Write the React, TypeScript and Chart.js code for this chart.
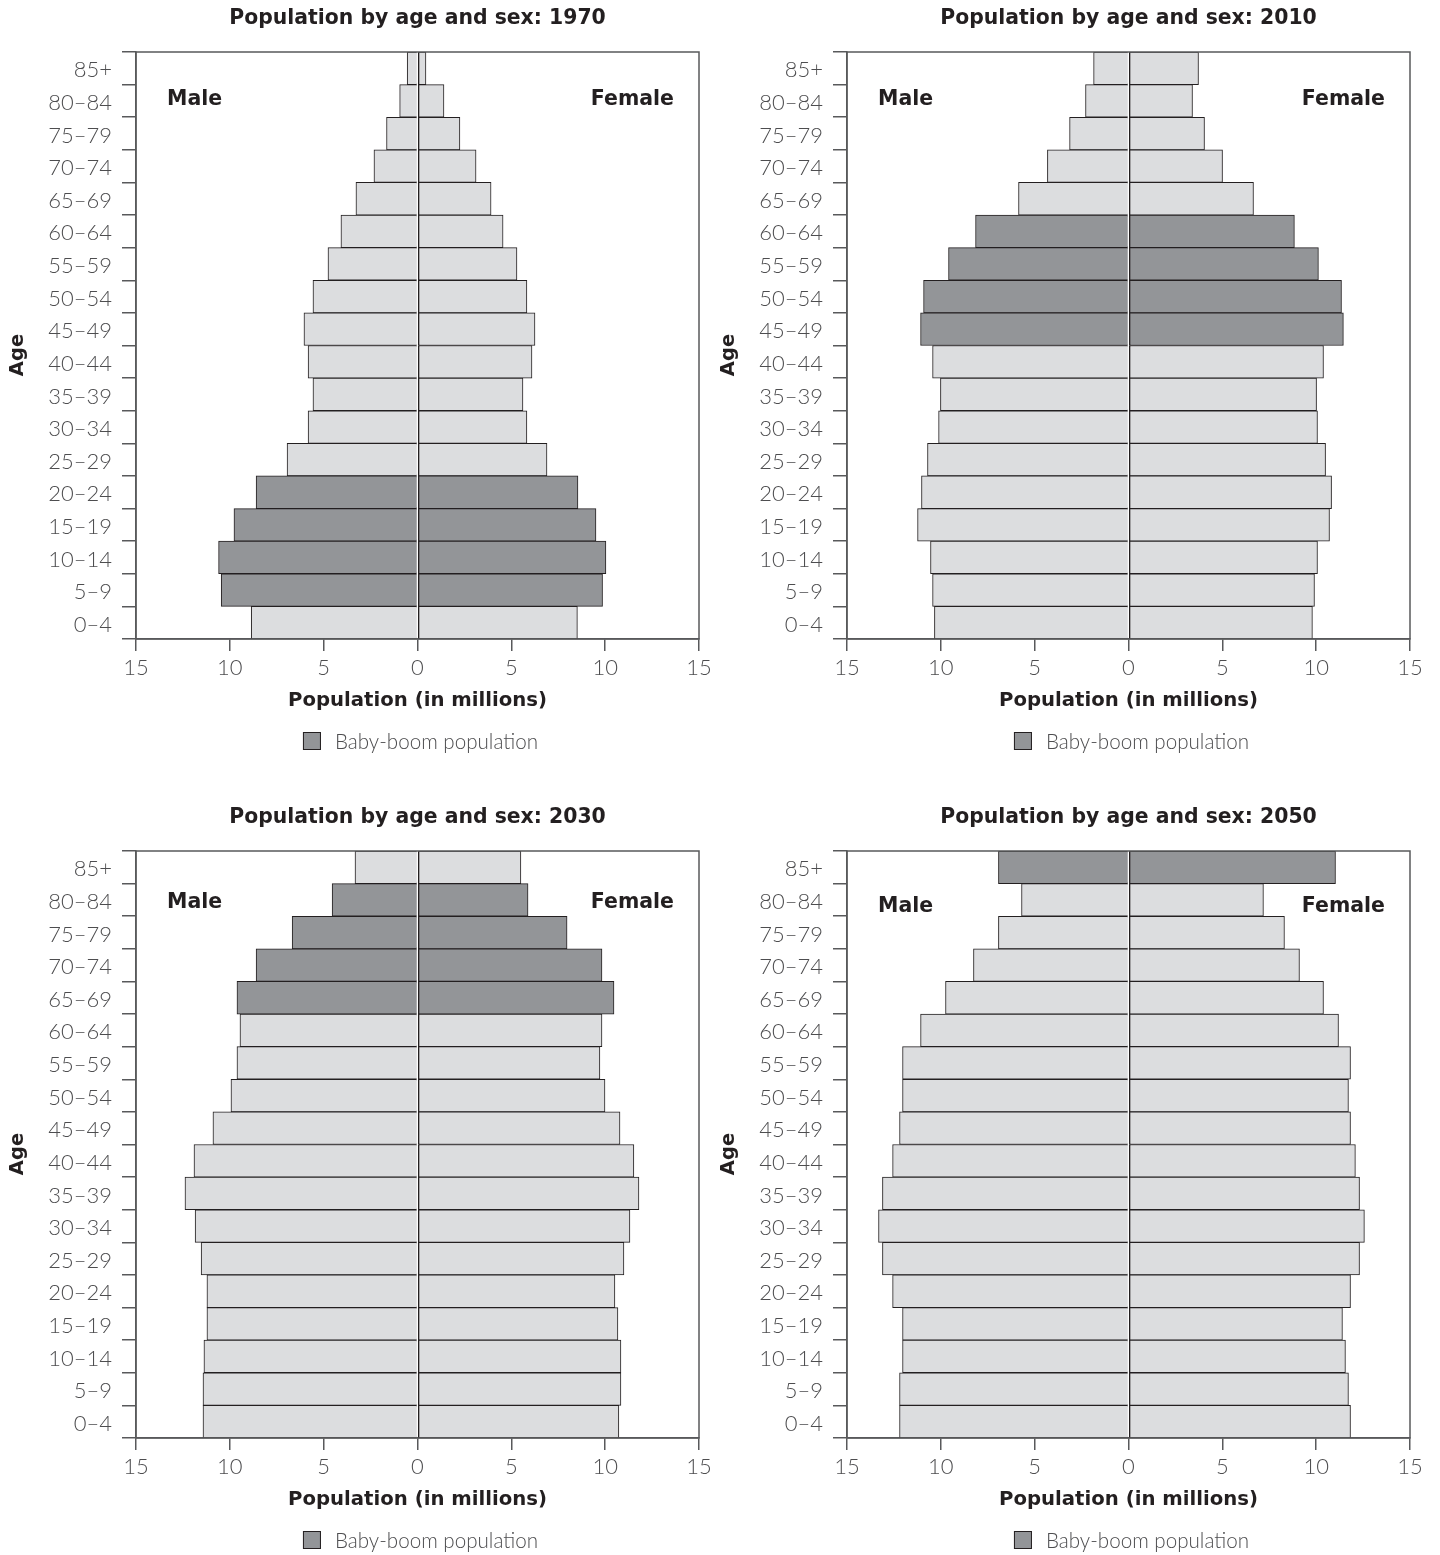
import React, { useEffect, useRef } from "react";
import { Chart, registerables } from "chart.js";

Chart.register(...registerables);

// ---------- DATA ----------
const ageGroups = [
  "85+", "80–84", "75–79", "70–74", "65–69", "60–64", "55–59", "50–54", "45–49",
  "40–44", "35–39", "30–34", "25–29", "20–24", "15–19", "10–14", "5–9", "0–4",
];
const xTickValues = [-15, -10, -5, 0, 5, 10, 15];

const male1970 = [0.55, 0.95, 1.65, 2.32, 3.28, 4.08, 4.77, 5.57, 6.05, 5.83, 5.57, 5.83, 6.95, 8.6, 9.78, 10.6, 10.46, 8.86];
const female1970 = [0.45, 1.41, 2.26, 3.12, 3.92, 4.56, 5.3, 5.83, 6.26, 6.1, 5.62, 5.83, 6.9, 8.55, 9.51, 10.04, 9.86, 8.52];
const boom1970 = [0, 0, 0, 0, 0, 0, 0, 0, 0, 0, 0, 0, 0, 1, 1, 1, 1, 0];

const male2010 = [1.86, 2.29, 3.14, 4.32, 5.86, 8.15, 9.59, 10.92, 11.08, 10.44, 10.02, 10.12, 10.71, 11.03, 11.24, 10.55, 10.44, 10.34];
const female2010 = [3.73, 3.41, 4.05, 5.01, 6.66, 8.84, 10.12, 11.35, 11.45, 10.39, 10.02, 10.07, 10.5, 10.82, 10.71, 10.07, 9.91, 9.8];
const boom2010 = [0, 0, 0, 0, 0, 1, 1, 1, 1, 0, 0, 0, 0, 0, 0, 0, 0, 0];

const male2030 = [3.33, 4.55, 6.68, 8.6, 9.62, 9.46, 9.62, 9.94, 10.9, 11.91, 12.39, 11.85, 11.53, 11.22, 11.22, 11.38, 11.43, 11.43];
const female2030 = [5.51, 5.89, 7.97, 9.83, 10.47, 9.83, 9.72, 9.99, 10.79, 11.53, 11.8, 11.32, 11.0, 10.52, 10.68, 10.84, 10.84, 10.73];
const boom2030 = [0, 1, 1, 1, 1, 0, 0, 0, 0, 0, 0, 0, 0, 0, 0, 0, 0, 0];

const male2050 = [6.93, 5.7, 6.93, 8.26, 9.75, 11.08, 12.04, 12.04, 12.2, 12.57, 13.11, 13.32, 13.11, 12.57, 12.04, 12.04, 12.2, 12.2];
const female2050 = [11.03, 7.19, 8.31, 9.11, 10.39, 11.19, 11.83, 11.72, 11.83, 12.09, 12.31, 12.57, 12.31, 11.83, 11.4, 11.56, 11.72, 11.83];
const boom2050 = [1, 0, 0, 0, 0, 0, 0, 0, 0, 0, 0, 0, 0, 0, 0, 0, 0, 0];

// ---------- STYLE ----------
const LIGHT = "#dcdddf";
const DARK = "#939598";
const INK = "#231f20";
const AXIS = "#58595b";
const TICK_TEXT = "#4d4d4f";
const BOLD_FAMILY = "'DejaVu Sans', sans-serif";
const LIGHT_FAMILY = "Lato, 'DejaVu Sans', sans-serif";

const PANELS = [
  { year: "1970", male: male1970, female: female1970, boom: boom1970, left: 0, top: 0, labelDy: 48 },
  { year: "2010", male: male2010, female: female2010, boom: boom2010, left: 711, top: 0, labelDy: 48 },
  { year: "2030", male: male2030, female: female2030, boom: boom2030, left: 0, top: 799, labelDy: 52 },
  { year: "2050", male: male2050, female: female2050, boom: boom2050, left: 711, top: 799, labelDy: 56 },
];

type PanelProps = {
  year: string;
  male: number[];
  female: number[];
  boom: number[];
  left: number;
  top: number;
  labelDy: number;
};

function Pyramid({ year, male, female, boom, left, top, labelDy }: PanelProps) {
  const ref = useRef<HTMLCanvasElement>(null);

  useEffect(() => {
    if (!ref.current) return;
    const colors = boom.map((b) => (b ? DARK : LIGHT));

    const decor = {
      id: "decor",
      afterDraw(chart: any) {
        const { ctx, chartArea: a } = chart;
        const cx = (a.left + a.right) / 2;
        ctx.save();
        // frame
        ctx.strokeStyle = AXIS;
        ctx.lineWidth = 1.5;
        ctx.strokeRect(a.left, a.top, a.right - a.left, a.bottom - a.top);

        // title
        ctx.fillStyle = INK;
        ctx.font = `bold 20.4px ${BOLD_FAMILY}`;
        ctx.textAlign = "center";
        ctx.textBaseline = "middle";
        ctx.fillText(`Population by age and sex: ${year}`, cx, 19);

        // Male / Female
        ctx.font = `bold 20.5px ${BOLD_FAMILY}`;
        ctx.textAlign = "left";
        ctx.fillText("Male", a.left + 31, a.top + labelDy);
        ctx.textAlign = "right";
        ctx.fillText("Female", a.right - 25, a.top + labelDy);

        // Age (y title)
        ctx.save();
        ctx.translate(18, a.top + 303);
        ctx.rotate(-Math.PI / 2);
        ctx.textAlign = "center";
        ctx.font = `bold 19.5px ${BOLD_FAMILY}`;
        ctx.fillText("Age", 0, 0);
        ctx.restore();

        // legend
        const legendText = "Baby-boom population";
        ctx.font = `300 20.6px ${LIGHT_FAMILY}`;
        const tw = ctx.measureText(legendText).width;
        const total = 18 + 14 + tw;
        const lx = cx - total / 2 + 3;
        const ly = a.bottom + 102;
        ctx.fillStyle = DARK;
        ctx.fillRect(lx, ly - 9, 18, 18);
        ctx.strokeStyle = INK;
        ctx.lineWidth = 1;
        ctx.strokeRect(lx + 0.5, ly - 8.5, 17, 17);
        ctx.fillStyle = TICK_TEXT;
        ctx.textAlign = "left";
        ctx.textBaseline = "middle";
        ctx.fillText(legendText, lx + 32, ly + 1);
        ctx.restore();
      },
    };

    const chart = new Chart(ref.current, {
      type: "bar",
      data: {
        labels: ageGroups,
        datasets: [
          {
            label: "Male",
            data: male.map((v) => -v),
            backgroundColor: colors,
            borderColor: INK,
            borderWidth: 1,
            borderSkipped: "start",
            barPercentage: 1,
            categoryPercentage: 1,
          },
          {
            label: "Female",
            data: female,
            backgroundColor: colors,
            borderColor: INK,
            borderWidth: { left: 1.4, right: 1, top: 1, bottom: 1 },
            borderSkipped: false,
            barPercentage: 1,
            categoryPercentage: 1,
          },
        ],
      },
      options: {
        indexAxis: "y",
        responsive: false,
        animation: false,
        events: [],
        layout: { padding: { top: 52, right: 21, bottom: 35, left: 0 } },
        plugins: {
          legend: { display: false },
          title: { display: false },
          tooltip: { enabled: false },
        },
        scales: {
          x: {
            type: "linear",
            min: xTickValues[0],
            max: xTickValues[xTickValues.length - 1],
            stacked: true,
            afterBuildTicks: (s: any) => {
              s.ticks = xTickValues.map((v) => ({ value: v }));
            },
            ticks: {
              callback: (v: any) => String(Math.abs(Number(v))),
              font: { family: LIGHT_FAMILY, size: 22, weight: "300" },
              color: TICK_TEXT,
              padding: 4,
              maxRotation: 0,
            },
            grid: {
              drawOnChartArea: false,
              drawTicks: true,
              tickLength: 12,
              color: AXIS,
              lineWidth: 1.5,
            },
            border: { display: true, color: AXIS, width: 1.5 },
            title: {
              display: true,
              text: "Population (in millions)",
              font: { family: BOLD_FAMILY, size: 19.7, weight: "bold" },
              color: INK,
              padding: { top: 0, bottom: 8 },
            },
            afterFit: (s: any) => {
              s.height = 82;
              s.paddingLeft = 0;
              s.paddingRight = 0;
            },
          },
          y: {
            type: "category",
            stacked: true,
            grid: {
              offset: true,
              drawOnChartArea: false,
              drawTicks: true,
              tickLength: 14,
              color: AXIS,
              lineWidth: 1.5,
            },
            border: { display: true, color: AXIS, width: 1.5 },
            ticks: {
              font: { family: LIGHT_FAMILY, size: 22, weight: "300" },
              color: TICK_TEXT,
              padding: 10,
              autoSkip: false,
              labelOffset: 2,
            },
            afterFit: (s: any) => {
              s.width = 136;
              s.paddingTop = 0;
              s.paddingBottom = 0;
            },
          },
        },
      } as any,
      plugins: [decor],
    });
    return () => chart.destroy();
  }, []);

  return (
    <canvas
      ref={ref}
      width={720}
      height={756}
      style={{ position: "absolute", left, top, width: 720, height: 756 }}
    />
  );
}

export default function App() {
  return (
    <div
      style={{
        position: "absolute",
        left: 0,
        top: 0,
        width: 1440,
        height: 1555,
        background: "#ffffff",
        overflow: "hidden",
      }}
    >
      {PANELS.map((p) => (
        <Pyramid key={p.year} {...p} />
      ))}
    </div>
  );
}
